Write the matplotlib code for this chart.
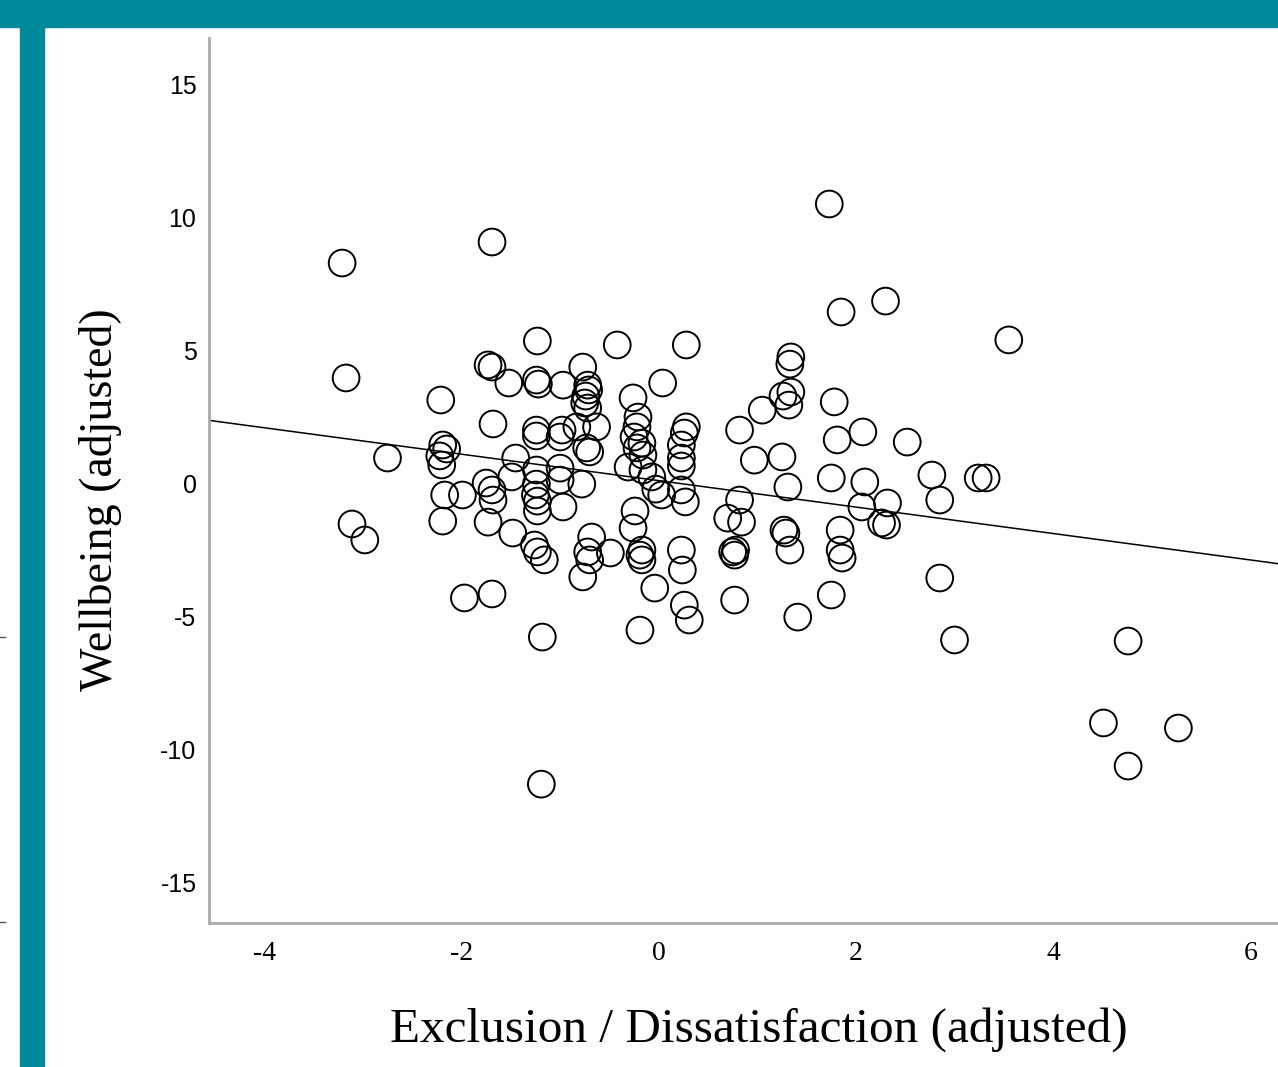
"""Scatter of adjusted wellbeing against adjusted exclusion / dissatisfaction."""

import matplotlib
matplotlib.use("Agg")
import matplotlib.pyplot as plt
from matplotlib.patches import Rectangle
from matplotlib.lines import Line2D
import numpy as np

plt.rcParams["axes.unicode_minus"] = False

# ---------------------------------------------------------------------------
# Data
# ---------------------------------------------------------------------------

exclusion = [
    -3.21, -3.17, -3.11, -2.98, -2.75, -2.21, -2.19, -2.15, -2.22, -2.20,
    -2.17, -1.99, -2.19, -1.97,
    -1.69, -1.73, -1.69, -1.52, -1.68, -1.75, -1.69, -1.68, -1.73, -1.48,
    -1.69, -1.45, -1.49,
    -1.23, -1.24, -1.22, -1.24, -1.24, -1.24, -1.24, -1.25, -1.23, -1.23,
    -1.26, -1.23, -1.16, -1.18, -1.19,
    -0.97, -0.98, -1.00, -1.00, -1.00, -0.97,
    -0.77, -0.72, -0.71, -0.74, -0.75, -0.72, -0.83, -0.63, -0.73, -0.70,
    -0.78, -0.68, -0.72, -0.70, -0.77, -0.49,
    -0.42, -0.26, -0.21, -0.22, -0.25, -0.17, -0.22, -0.16, -0.31, -0.16,
    -0.24, -0.26, -0.17, -0.19, -0.17, -0.19,
    0.04, -0.07, -0.03, 0.03, -0.04,
    0.28, 0.28, 0.26, 0.23, 0.23, 0.23, 0.23, 0.27, 0.23, 0.24, 0.26, 0.31,
    0.82, 0.97, 0.82, 0.70, 0.84, 0.75, 0.78, 0.77, 0.77, 1.05,
    1.34, 1.33, 1.26, 1.34, 1.32, 1.25, 1.31, 1.27, 1.29, 1.33, 1.41,
    1.73, 1.85, 1.78, 1.81, 2.07, 1.75, 2.09, 2.06, 1.84, 1.84, 1.86, 1.75,
    2.30, 2.32, 2.26, 2.31, 2.52,
    3.55, 2.77, 2.85, 3.24, 3.32, 2.85, 3.00, 4.76, 4.51, 5.27, 4.76,
]

wellbeing = [
    8.27, 3.95, -1.54, -2.14, 0.94, 3.12, 1.43, 1.28, 1.02, 0.68,
    -0.45, -0.45, -1.43, -4.32,
    9.06, 4.44, 4.36, 3.76, 2.22, 0.00, -0.26, -0.64, -1.47, -1.88,
    -4.17, 0.94, 0.23,
    5.34, 3.87, 3.72, 1.99, 1.77, 0.49, -0.04, -0.45, -0.68, -1.05,
    -2.33, -2.59, -2.89, -5.79, -11.32,
    3.68, 1.99, 1.73, 0.56, 0.11, -0.90,
    4.36, 3.68, 3.50, 3.27, 3.01, 2.82, 2.11, 2.11, 1.32, 1.17,
    -0.04, -2.03, -2.59, -2.89, -3.53, -2.63,
    5.19, 3.20, 2.48, 2.11, 1.73, 1.50, 1.32, 1.05, 0.60, 0.49,
    -1.05, -1.69, -2.52, -2.71, -2.89, -5.53,
    3.76, 0.23, -0.23, -0.45, -3.95,
    5.19, 2.11, 1.88, 1.43, 0.94, 0.64, -0.26, -0.71, -2.52, -3.27, -4.59, -5.15,
    1.99, 0.86, -0.64, -1.32, -1.47, -2.59, -2.52, -2.71, -4.40, 2.74,
    4.74, 4.47, 3.27, 3.42, 2.93, 0.98, -0.15, -1.77, -1.88, -2.52, -5.04,
    10.49, 6.43, 3.05, 1.62, 1.92, 0.19, 0.04, -0.90, -1.77, -2.52, -2.82, -4.21,
    6.84, -0.75, -1.50, -1.58, 1.54,
    5.38, 0.30, -0.64, 0.19, 0.19, -3.57, -5.90, -5.94, -9.02, -9.21, -10.64,
]

# fitted regression line as shown in the picture
fit_slope = -0.497
fit_intercept = 0.09

x_ticks = [-4, -2, 0, 2, 4, 6]
y_ticks = [-15, -10, -5, 0, 5, 10, 15]
x_label = "Exclusion / Dissatisfaction (adjusted)"
y_label = "Wellbeing (adjusted)"

# ---------------------------------------------------------------------------
# Figure
# ---------------------------------------------------------------------------

W, H = 1278, 1067
fig = plt.figure(figsize=(W / 100, H / 100), dpi=100)
teal = "#00899A"

# slide decoration: top band + left bar
fig.patches.append(Rectangle((0, 1 - 27 / H), 1, 27 / H,
                             transform=fig.transFigure, color=teal, zorder=0))
fig.patches.append(Rectangle((20 / W, 0), 24 / W, 1 - 27 / H,
                             transform=fig.transFigure, color=teal, zorder=0))
# stray tick marks from a neighbouring chart at the far left edge
for yy in (637, 922):
    fig.add_artist(Line2D([0, 5 / W], [1 - yy / H, 1 - yy / H],
                          transform=fig.transFigure, color="#555555", lw=1))

left, right = 209 / W, 1.0
bottom, top = 1 - 923 / H, 1 - 38 / H
ax = fig.add_axes([left, bottom, right - left, top - bottom])

x = np.array(exclusion)
y = np.array(wellbeing)
ax.scatter(x, y, s=370, facecolors="none", edgecolors="black",
           linewidths=1.4, zorder=3)

xmin, xmax = -4.56, 6.28
xl = np.array([xmin, xmax])
ax.plot(xl, fit_intercept + fit_slope * xl, color="black", lw=1.1, zorder=2)

ax.set_xlim(xmin, xmax)
ax.set_ylim(-16.54, 16.73)

for side in ("top", "right"):
    ax.spines[side].set_visible(False)
for side in ("left", "bottom"):
    ax.spines[side].set_color("#ababab")
    ax.spines[side].set_linewidth(2.0)

ax.set_xticks(x_ticks)
ax.set_yticks(y_ticks)
ax.tick_params(axis="both", length=0)
ax.tick_params(axis="x", pad=13)
ax.tick_params(axis="y", pad=9)
for lab in ax.get_xticklabels():
    lab.set_family(["Liberation Serif", "DejaVu Serif"])
    lab.set_fontsize(20)
for lab in ax.get_yticklabels():
    lab.set_family(["Liberation Sans Narrow", "Liberation Sans", "DejaVu Sans"])
    lab.set_fontsize(18)

ax.set_xlabel(x_label, family=["Liberation Serif", "DejaVu Serif"],
              fontsize=35.5, va="center")
ax.set_ylabel(y_label, family=["Liberation Serif", "DejaVu Serif"],
              fontsize=33, va="center")
ax.xaxis.set_label_coords((759 - 209) / (W - 209), -(1030 - 923) / (923 - 38))
ax.yaxis.set_label_coords(-(209 - 101) / (W - 209), (923 - 500) / (923 - 38))

fig.savefig("out.png", dpi=100)
